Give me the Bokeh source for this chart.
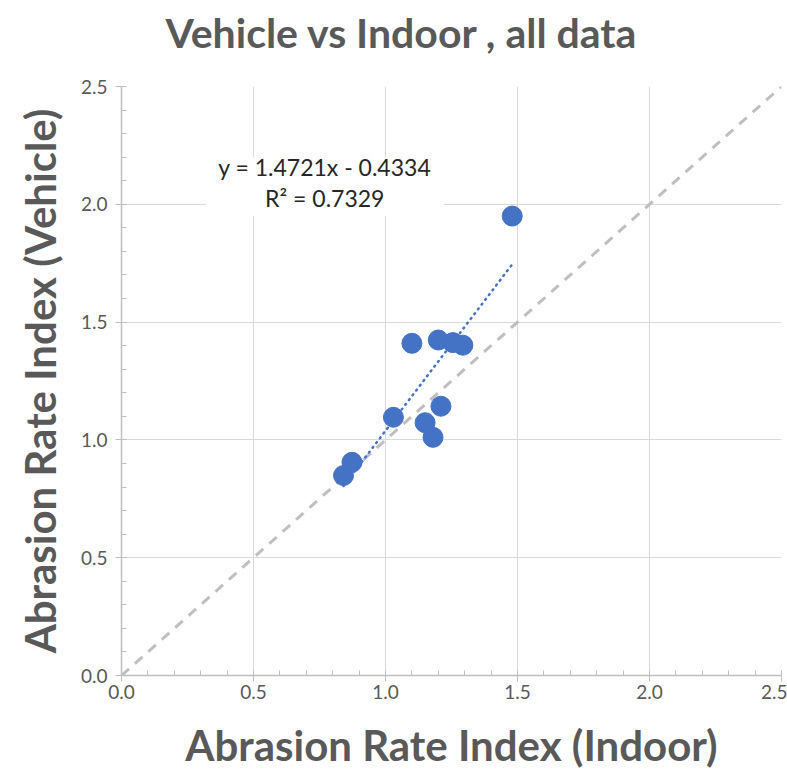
from bokeh.plotting import figure
from bokeh.models import ColumnDataSource, Label, BoxAnnotation, NumeralTickFormatter, FixedTicker, Title
from bokeh.embed import file_html
from bokeh.resources import INLINE

# data
indoor = [1.48, 1.10, 1.20, 1.255, 1.293, 1.03, 1.21, 1.15, 1.18, 0.873, 0.841]
vehicle = [1.95, 1.41, 1.424, 1.413, 1.402, 1.096, 1.143, 1.073, 1.011, 0.905, 0.849]
slope = 1.4721
intercept = -0.4334
r2 = 0.7329
diag = [0.0, 2.5]
ticks = [0.0, 0.5, 1.0, 1.5, 2.0, 2.5]
title_text = "Vehicle vs Indoor , all data"

FONT = "Lato"
GREY = "#595959"

p = figure(width=787, height=772, x_range=(0, 2.5), y_range=(0, 2.5),
           output_backend="svg", toolbar_location=None,
           min_border_left=121, min_border_right=6, min_border_top=82, min_border_bottom=97,
           title=title_text)
p.title.text_font = FONT
p.title.text_font_size = "41px"
p.title.text_font_style = "bold"
p.title.text_color = GREY
p.title.align = "left"
p.title.offset = 44
p.title.standoff = 11
p.outline_line_color = None

# empty spacer panel between the frame and the title
p.add_layout(Title(text=" ", text_font_size="20px", standoff=0), "above")

for ax, lab in ((p.xaxis, "Abrasion Rate Index (Indoor)"), (p.yaxis, "Abrasion Rate Index (Vehicle)")):
    ax.axis_label = lab
    ax.axis_label_text_font = FONT
    ax.axis_label_text_font_size = "42px"
    ax.axis_label_text_font_style = "bold"
    ax.axis_label_text_color = GREY
    ax.major_label_text_font = FONT
    ax.major_label_text_font_size = "19px"
    ax.major_label_text_color = GREY
    ax.formatter = NumeralTickFormatter(format="0.0")
    ax.ticker = FixedTicker(ticks=ticks, minor_ticks=[i / 10 for i in range(26)])
    ax.axis_line_color = "#BFBFBF"
    ax.major_tick_line_color = "#BFBFBF"
    ax.minor_tick_line_color = "#BFBFBF"
    ax.major_tick_out = 6
    ax.major_tick_in = 0
    ax.minor_tick_in = 5
    ax.minor_tick_out = 0
    ax.axis_line_width = 1.5
p.xaxis.axis_label_standoff = 18
p.yaxis.axis_label_standoff = 13
p.xaxis.major_label_standoff = 3
p.yaxis.major_label_standoff = 8

p.grid.grid_line_color = "#D9D9D9"
p.grid.grid_line_width = 1

# diagonal y = x
p.line(diag, diag, line_color="#BFBFBF", line_width=3, line_dash="10 8")

# trend line
xmin, xmax = min(indoor), max(indoor)
p.line([xmin, xmax], [slope * xmin + intercept, slope * xmax + intercept],
       line_color="#4472C4", line_width=2.5, line_dash="1 5", line_cap="round")

src = ColumnDataSource(dict(x=indoor, y=vehicle))
p.scatter("x", "y", source=src, size=20, fill_color="#4472C4", line_color="#4472C4")

# equation label box
p.add_layout(BoxAnnotation(left=0.32, right=1.22, bottom=1.95, top=2.2,
                           fill_color="white", fill_alpha=1.0, line_color=None, level="underlay"))
p.add_layout(Label(x=0.77, y=2.16, text=f"y = {slope}x - {abs(intercept)}", text_align="center",
                   text_baseline="middle", text_font=FONT, text_font_size="23px", text_color="#262626"))
p.add_layout(Label(x=0.77, y=2.025, text=f"R² = {r2}", text_align="center",
                   text_baseline="middle", text_font=FONT, text_font_size="23px", text_color="#262626"))

open("out.html", "w").write(file_html(p, INLINE))
